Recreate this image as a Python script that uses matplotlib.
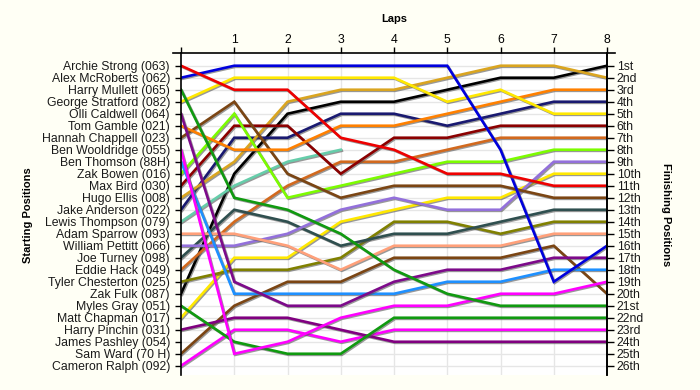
import matplotlib.pyplot as plt
import matplotlib.patheffects as pe
import numpy as np

plt.rcParams['font.family'] = ['Liberation Sans', 'DejaVu Sans']

laps = [0, 1, 2, 3, 4, 5, 6, 7, 8]

drivers = ["Archie Strong (063)", "Alex McRoberts (062)", "Harry Mullett (065)",
           "George Stratford (082)", "Olli Caldwell (064)", "Tom Gamble (021)",
           "Hannah Chappell (023)", "Ben Wooldridge (055)", "Ben Thomson (88H)",
           "Zak Bowen (016)", "Max Bird (030)", "Hugo Ellis (008)",
           "Jake Anderson (022)", "Lewis Thompson (079)", "Adam Sparrow (093)",
           "William Pettitt (066)", "Joe Turney (098)", "Eddie Hack (049)",
           "Tyler Chesterton (025)", "Zak Fulk (087)", "Myles Gray (051)",
           "Matt Chapman (017)", "Harry Pinchin (031)", "James Pashley (054)",
           "Sam Ward (70 H)", "Cameron Ralph (092)"]

finish_labels = ["1st", "2nd", "3rd", "4th", "5th", "6th", "7th", "8th", "9th",
                 "10th", "11th", "12th", "13th", "14th", "15th", "16th", "17th",
                 "18th", "19th", "20th", "21st", "22nd", "23rd", "24th", "25th",
                 "26th"]

# position of each driver at each lap (None = no data)
positions = {
    "Archie Strong (063)":    [1, 3, 3, 7, 8, 10, 10, 11, 11],
    "Alex McRoberts (062)":   [2, 1, 1, 1, 1, 1, 8, 19, 16],
    "Harry Mullett (065)":    [3, 12, 13, 15, 18, 20, 21, 21, 21],
    "George Stratford (082)": [4, 2, 2, 2, 2, 4, 3, 5, 5],
    "Olli Caldwell (064)":    [5, 19, 21, 21, 19, 18, 18, 17, 17],
    "Tom Gamble (021)":       [6, 8, 8, 6, 6, 5, 4, 3, 3],
    "Hannah Chappell (023)":  [7, 4, 10, 12, 11, 11, 11, 12, 12],
    "Ben Wooldridge (055)":   [8, 25, 24, 22, 21, 21, 20, 20, 19],
    "Ben Thomson (88H)":      [9, 20, 20, 20, 20, 19, 19, 18, 18],
    "Zak Bowen (016)":        [10, 5, 12, 11, 10, 9, 9, 8, 8],
    "Max Bird (030)":         [11, 6, 6, 10, 7, 7, 6, 6, 6],
    "Hugo Ellis (008)":       [12, 9, 4, 3, 3, 2, 1, 1, 2],
    "Jake Anderson (022)":    [13, 7, 7, 5, 5, 6, 5, 4, 4],
    "Lewis Thompson (079)":   [14, 11, 9, 8, None, None, None, None, None],
    "Adam Sparrow (093)":     [15, 15, 16, 18, 16, 16, 16, 15, 15],
    "William Pettitt (066)":  [16, 16, 15, 13, 12, 13, 13, 9, 9],
    "Joe Turney (098)":       [17, 13, 14, 16, 15, 15, 14, 13, 13],
    "Eddie Hack (049)":       [18, 14, 11, 9, 9, 8, 7, 7, 7],
    "Tyler Chesterton (025)": [19, 18, 18, 17, 14, 14, 15, 14, 14],
    "Zak Fulk (087)":         [20, 10, 5, 4, 4, 3, 2, 2, 1],
    "Myles Gray (051)":       [21, 24, 25, 25, 22, 22, 22, 22, 22],
    "Matt Chapman (017)":     [22, 17, 17, 14, 13, 12, 12, 10, 10],
    "Harry Pinchin (031)":    [23, 22, 22, 23, 24, 24, 24, 24, 24],
    "Sam Ward (70 H)":        [25, 21, 19, 19, 17, 17, 17, 16, 20],
    "Cameron Ralph (092)":    [26, 23, 23, 24, 23, 23, 23, 23, 23],
}

colors = {
    "Archie Strong (063)": "#ee0000",
    "Alex McRoberts (062)": "#0000dd",
    "Harry Mullett (065)": "#109a10",
    "George Stratford (082)": "#ffe800",
    "Olli Caldwell (064)": "#7d0a8a",
    "Tom Gamble (021)": "#ff8000",
    "Hannah Chappell (023)": "#7b4513",
    "Ben Wooldridge (055)": "#ff00ff",
    "Ben Thomson (88H)": "#1e90ff",
    "Zak Bowen (016)": "#7cfc00",
    "Max Bird (030)": "#8b0000",
    "Hugo Ellis (008)": "#daa520",
    "Jake Anderson (022)": "#191970",
    "Lewis Thompson (079)": "#66cdaa",
    "Adam Sparrow (093)": "#ffa07a",
    "William Pettitt (066)": "#9370db",
    "Joe Turney (098)": "#2f4f4f",
    "Eddie Hack (049)": "#d2691e",
    "Tyler Chesterton (025)": "#808000",
    "Zak Fulk (087)": "#000000",
    "Myles Gray (051)": "#109a10",
    "Matt Chapman (017)": "#ffe800",
    "Harry Pinchin (031)": "#800080",
    "Sam Ward (70 H)": "#7b4513",
    "Cameron Ralph (092)": "#ff00ff",
}

fig = plt.figure(figsize=(7, 3.9), dpi=100, facecolor='#fffff5')
ax = fig.add_axes([181 / 700, 1 - 375 / 390, 426 / 700, (375 - 53) / 390])
ax.set_facecolor('white')

n = len(drivers)
top_row = -0.06
bottom_row = 26.77
ax.set_xlim(0, 8)
ax.set_ylim(bottom_row, top_row)

# grid
for r in range(1, n + 1):
    ax.axhline(r, color='#e6e6e6', lw=1, zorder=0)
for l in laps[1:-1]:
    ax.axvline(l, color='#e6e6e6', lw=1, zorder=0)

shadow = [pe.SimpleLineShadow(offset=(0.8, -0.8), shadow_color='#555555', alpha=0.6),
          pe.Normal()]
for name in reversed(drivers):
    if name not in positions:
        continue
    ys = [np.nan if v is None else v for v in positions[name]]
    ax.plot(laps, ys, color=colors[name], lw=1.9, solid_joinstyle='miter',
            path_effects=shadow, zorder=2)

# axes styling
ax.spines['bottom'].set_visible(False)
ax.spines['top'].set_visible(False)
ax.spines['left'].set_linewidth(1.2)
ax.spines['right'].set_linewidth(1.2)
ax.plot([-0.15, 8.15], [top_row, top_row], color='black', lw=1.2, clip_on=False, zorder=5)

fs = 8.8
ax.xaxis.tick_top()
ax.set_xticks(laps)
ax.set_xticklabels([''] + [str(l) for l in laps[1:]], fontsize=fs)
ax.tick_params(axis='x', direction='out', length=4, width=1, pad=1)

ax.set_yticks(range(1, n + 1))
ax.set_yticklabels(drivers, fontsize=fs, color='#1a1a1a')
ax.tick_params(axis='y', direction='out', length=4, width=1, pad=4)

ax2 = ax.twinx()
ax2.set_ylim(ax.get_ylim())
ax2.set_yticks(range(1, n + 1))
ax2.set_yticklabels(finish_labels, fontsize=fs, color='#1a1a1a')
ax2.tick_params(axis='y', direction='out', length=5, width=1, pad=2)
for s in ['top', 'bottom', 'left']:
    ax2.spines[s].set_visible(False)
ax2.spines['right'].set_linewidth(1.2)

fig.text(394 / 700, 1 - 19 / 390, 'Laps', fontsize=8, fontweight='bold',
         ha='center', va='center')
fig.text(28 / 700, 1 - 215 / 390, 'Starting Positions', fontsize=8, fontweight='bold',
         ha='center', va='center', rotation=90)
fig.text(666 / 700, 1 - 215 / 390, 'Finishing Positions', fontsize=8, fontweight='bold',
         ha='center', va='center', rotation=-90)

fig.savefig('out.png', dpi=100, facecolor=fig.get_facecolor())
